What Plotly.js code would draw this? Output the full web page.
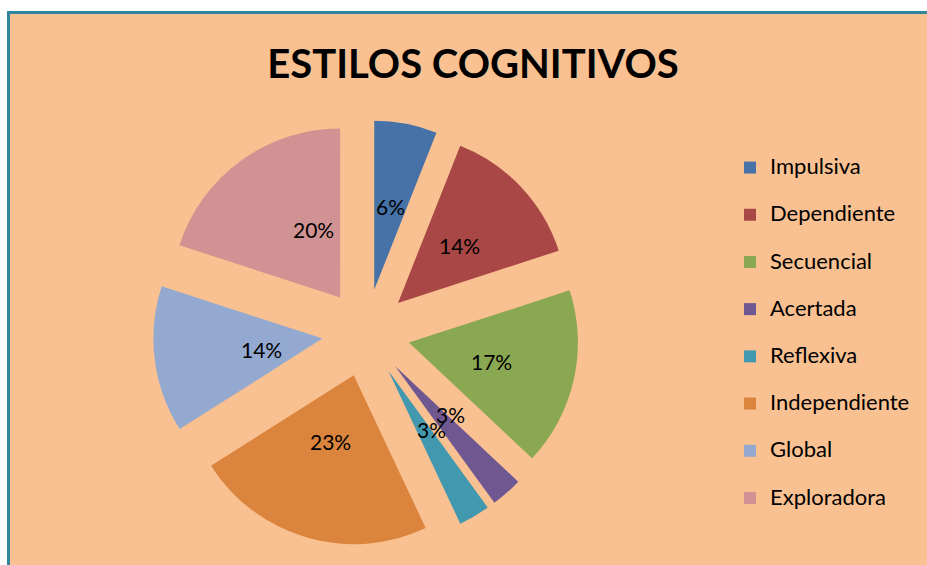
<!DOCTYPE html>
<html>
<head>
<meta charset="utf-8">
<script src="https://cdn.plot.ly/plotly-3.0.1.min.js"></script>
<style>html,body{margin:0;padding:0;background:#fff;}#chart{width:927px;height:565px;}</style>
</head>
<body>
<div id="chart"></div>
<script>
// ---- data ----
const categories = ["Impulsiva","Dependiente","Secuencial","Acertada","Reflexiva","Independiente","Global","Exploradora"];
const percents = [6,14,17,3,3,23,14,20];
const colors = ["#4672A8","#A84745","#8AA752","#6F5792","#4198AF","#DB843D","#93A9CF","#D09293"];
const titleText = "ESTILOS COGNITIVOS";

// ---- layout constants ----
const W = 927, H = 565;
const pull = 0.26;
const cxPx = 366, cyPx = 333, rPx = 169;
const half = rPx * (1 + pull);
const domX = [(cxPx - half) / W, (cxPx + half) / W];
const domY = [(H - cyPx - half) / H, (H - cyPx + half) / H];

const legendLabels = categories.map(c => "<span style='font-size:22px'>" + c + "</span><br> ");

const trace = {
  type: "pie",
  labels: legendLabels,
  values: percents,
  sort: false,
  direction: "clockwise",
  rotation: 0,
  pull: pull,
  marker: {colors: colors, line: {width: 0}},
  textinfo: "none",
  hoverinfo: "skip",
  domain: {x: domX, y: domY}
};

// percentage labels placed along each slice bisector
const total = percents.reduce((a, b) => a + b, 0);
let cum = 0;
const annotations = percents.map((v, i) => {
  const mid = (cum + v / 2) / total * 2 * Math.PI;
  cum += v;
  const dx = Math.sin(mid), dy = -Math.cos(mid);
  const dist = rPx * (pull + 0.5);
  const px = cxPx + dx * dist, py = cyPx + dy * dist;
  return {
    xref: "paper", yref: "paper",
    x: px / W, y: 1 - py / H,
    text: v + "%", showarrow: false,
    font: {family: "Lato, sans-serif", size: 21, color: "#000"}
  };
});

const layout = {
  width: W, height: H,
  margin: {l: 0, r: 0, t: 0, b: 0},
  paper_bgcolor: "#ffffff",
  plot_bgcolor: "rgba(0,0,0,0)",
  title: {
    text: "<b>" + titleText + "</b>",
    font: {family: "Lato, sans-serif", size: 40, color: "#000"},
    x: 473 / W, xanchor: "center",
    y: 1 - 64 / H, yanchor: "middle"
  },
  showlegend: true,
  legend: {
    x: 730 / W, xanchor: "left",
    y: 1 - 150 / H, yanchor: "top",
    font: {family: "Lato, sans-serif", size: 17, color: "#000"},
    valign: "top",
    bgcolor: "rgba(0,0,0,0)",
    borderwidth: 0,
    traceorder: "normal"
  },
  shapes: [{
    type: "rect", xref: "paper", yref: "paper", layer: "below",
    x0: 8.5 / W, x1: 1.05, y0: -0.05, y1: 1 - 12.5 / H,
    fillcolor: "#F9C191",
    line: {color: "#31859C", width: 3}
  }],
  annotations: annotations
};

Plotly.newPlot("chart", [trace], layout, {displayModeBar: false, staticPlot: true});
</script>
</body>
</html>
